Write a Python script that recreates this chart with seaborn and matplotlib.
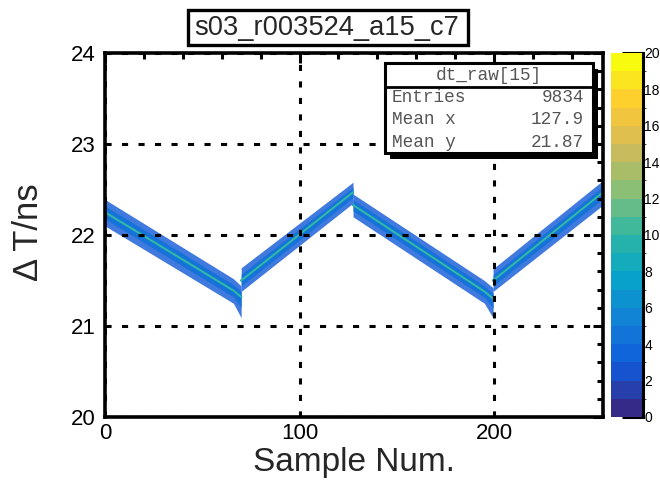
import numpy as np
import pandas as pd
import matplotlib
matplotlib.use("Agg")
import matplotlib.pyplot as plt
import seaborn as sns
from matplotlib.colors import LinearSegmentedColormap, BoundaryNorm
from matplotlib.patches import Rectangle
from matplotlib.ticker import MultipleLocator
from matplotlib.cm import ScalarMappable

# ---------------- data ----------------
title_text = "s03_r003524_a15_c7"
x_label = "Sample Num."
y_label = "Δ T/ns"
stats_name = "dt_raw[15]"
stats_labels = ["Entries", "Mean x", "Mean y"]
stats_values = ["9834", "127.9", "21.87"]

band_segment = [1, 1, 1, 2, 2, 3, 3, 3, 4, 4]
band_x = [0, 66, 70, 70, 127.5, 127.5, 195, 199.5, 199.5, 256]
band_center = [22.25, 21.39, 21.32, 21.50, 22.47, 22.33, 21.38, 21.30, 21.50, 22.47]
band_upper = [22.39, 21.52, 21.44, 21.64, 22.58, 22.45, 21.50, 21.42, 21.63, 22.60]
band_lower = [22.10, 21.25, 21.09, 21.38, 22.35, 22.20, 21.25, 21.09, 21.38, 22.33]

x_ticks = [0, 100, 200]
y_ticks = [20, 21, 22, 23, 24]
cbar_ticks = [0, 2, 4, 6, 8, 10, 12, 14, 16, 18, 20]
x_range = [0, 256]
y_range = [20, 24]
z_range = [0, 20]

# ---------------- style ----------------
sns.set_style("white")
plt.rcParams['font.family'] = ['Liberation Sans', 'DejaVu Sans']

W, H = 660, 482
fig = plt.figure(figsize=(W / 100, H / 100), dpi=100)

def fx(px):
    return px / W

def fy(py):
    return 1 - py / H

ax_l, ax_r, ax_t, ax_b = 105, 603, 53, 417
ax = fig.add_axes([fx(ax_l), fy(ax_b), fx(ax_r - ax_l), (ax_b - ax_t) / H])

# ROOT kBird palette
stops = [0, .125, .25, .375, .5, .625, .75, .875, 1]
red = [0.2082, 0.0592, 0.0780, 0.0232, 0.1802, 0.5301, 0.8186, 0.9956, 0.9764]
green = [0.1664, 0.3599, 0.5041, 0.6419, 0.7178, 0.7492, 0.7328, 0.7862, 0.9832]
blue = [0.5293, 0.8684, 0.8385, 0.7914, 0.6425, 0.4662, 0.3499, 0.1968, 0.0539]
bird = LinearSegmentedColormap.from_list(
    "bird", list(zip(stops, zip(red, green, blue))))

df = pd.DataFrame({"seg": band_segment, "x": band_x, "center": band_center,
                   "upper": band_upper, "lower": band_lower})

for seg, d in df.groupby("seg"):
    ax.fill_between(d["x"], d["lower"], d["upper"], color=bird(0.12),
                    alpha=0.8, lw=0, zorder=1)
    ax.fill_between(d["x"], (d["lower"] + d["center"]) / 2,
                    (d["upper"] + d["center"]) / 2, color=bird(0.2),
                    alpha=0.9, lw=0, zorder=1.2)
    sns.lineplot(data=d, x="x", y="center", ax=ax, color=bird(0.4),
                 lw=1.8, zorder=1.5, legend=False)
    sns.lineplot(data=d, x="x", y="center", ax=ax, color=bird(0.6),
                 lw=0.6, zorder=1.6, legend=False, alpha=0.8)

ax.set_xlim(*x_range)
ax.set_ylim(*y_range)
ax.set_xticks(x_ticks)
ax.set_yticks(y_ticks)
ax.xaxis.set_minor_locator(MultipleLocator(20))
ax.yaxis.set_minor_locator(MultipleLocator(0.2))
ax.tick_params(which='both', direction='in', top=True, right=True,
               width=2.2, colors='k')
ax.tick_params(which='major', length=7)
ax.tick_params(which='minor', length=4)
ax.tick_params(axis='x', which='major', labelsize=16, pad=4)
ax.tick_params(axis='y', which='major', labelsize=16, pad=7)
for s in ax.spines.values():
    s.set_linewidth(2.6)
    s.set_color('k')
ax.set_axisbelow(False)
ax.grid(True, which='major', color='k', lw=2.2, linestyle=(0, (2.0, 3.4)))

ax.set_xlabel(x_label, fontsize=24)
ax.set_ylabel(y_label, fontsize=25)
ax.xaxis.set_label_coords(0.5, (ax_b - 463) / (ax_b - ax_t))
ax.xaxis.label.set_va('center')
ax.yaxis.set_label_coords((28 - ax_l) / (ax_r - ax_l), (ax_b - 232) / (ax_b - ax_t))
ax.yaxis.label.set_va('center')

# ---------------- colour bar ----------------
cax = fig.add_axes([fx(611), fy(ax_b), fx(32), (ax_b - ax_t) / H])
levels = np.arange(z_range[0], z_range[1] + 1, 1)
norm = BoundaryNorm(levels, bird.N)
cb = fig.colorbar(ScalarMappable(norm=norm, cmap=bird), cax=cax,
                  ticks=cbar_ticks)
cb.outline.set_visible(False)
cax.spines['right'].set_visible(True)
cax.spines['right'].set_linewidth(2.2)
cax.spines['right'].set_color('k')
cax.tick_params(direction='in', length=15, width=2.2, labelsize=10, pad=1,
                colors='k')

# ---------------- title box ----------------
fig.add_artist(Rectangle((fx(188), fy(45)), fx(280), (45 - 10) / H,
                         transform=fig.transFigure, facecolor='white',
                         edgecolor='k', lw=2.4, zorder=5))
fig.text(fx(327), fy(28), title_text, ha='center', va='center',
         fontsize=19.6, zorder=6)

# ---------------- stats box ----------------
bx0, bx1, by0, by1 = 385, 593, 63, 153
fig.add_artist(Rectangle((fx(bx0 + 5), fy(by1 + 6)), fx(bx1 - bx0), (by1 - by0) / H,
                         transform=fig.transFigure, facecolor='k',
                         edgecolor='k', lw=0, zorder=5))
fig.add_artist(Rectangle((fx(bx0), fy(by1)), fx(bx1 - bx0), (by1 - by0) / H,
                         transform=fig.transFigure, facecolor='white',
                         edgecolor='k', lw=2.2, zorder=6))
fig.add_artist(plt.Line2D([fx(bx0), fx(bx1)], [fy(87), fy(87)],
                          transform=fig.transFigure, color='k', lw=2.0,
                          zorder=7))
mono = ['Liberation Mono', 'DejaVu Sans Mono']
fs = 12.8
fig.text(fx((bx0 + bx1) / 2), fy(76), stats_name, ha='center', va='center',
         fontsize=fs, family=mono, color='#555', zorder=8)
for i, (lab, val) in enumerate(zip(stats_labels, stats_values)):
    yy = 98 + 22 * i
    fig.text(fx(392), fy(yy), lab, ha='left', va='center', fontsize=fs,
             family=mono, color='#555', zorder=8)
    fig.text(fx(584), fy(yy), val, ha='right', va='center', fontsize=fs,
             family=mono, color='#555', zorder=8)

fig.savefig("out.png", dpi=100)
